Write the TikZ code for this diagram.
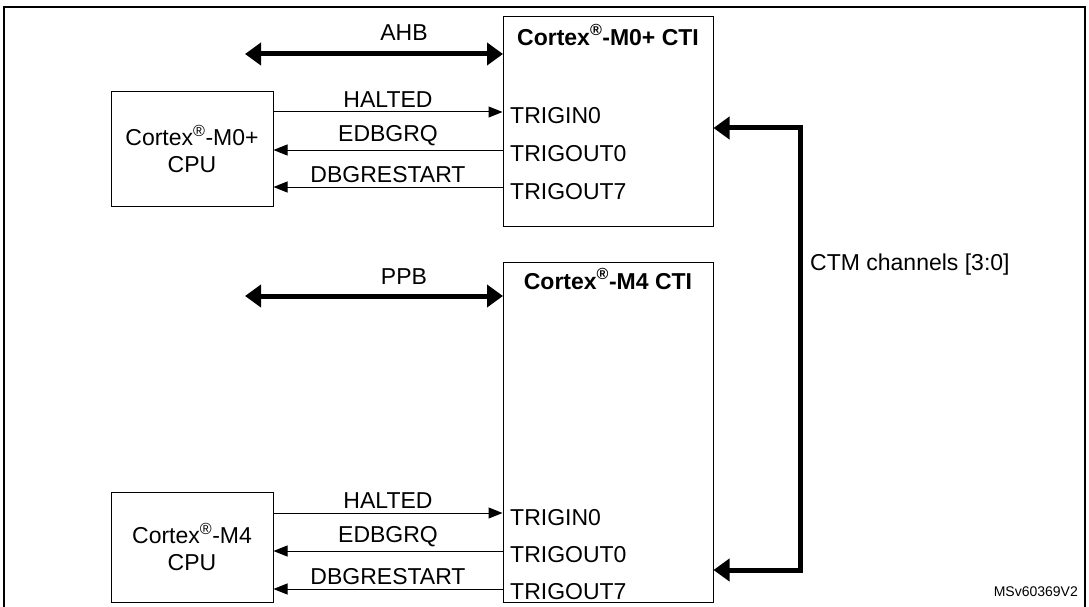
\documentclass[tikz,border=0pt]{standalone}
\usepackage{fontspec}
\setmainfont{Liberation Sans}
\usetikzlibrary{arrows.meta}
\begin{document}
\begin{tikzpicture}[x=1pt,y=-1pt,
  box/.style={draw,line width=1pt,inner sep=0},
  sig/.style={line width=1pt,-{Triangle[length=14pt,width=11pt]}},
  bus/.style={line width=5pt,{Triangle[length=16pt,width=22pt]}-{Triangle[length=16pt,width=22pt]}},
  txt/.style={font=\fontsize{23}{27}\selectfont,inner sep=0},
  every node/.style={txt}]
\useasboundingbox (0,0) rectangle (1089,607);
\draw[line width=1.2pt] (4,7) rectangle (1085,610);
% M0+
\node[box,minimum width=210pt,minimum height=209pt] (cti0) at (608,121.5) {};
\node[font=\fontsize{23}{27}\selectfont\bfseries] (t0) at (608,35) {Cortex\textsuperscript{®}-M0+ CTI};
\node[box,minimum width=162pt,minimum height=114pt,align=center] (cpu0) at (192,149) {Cortex\textsuperscript{®}-M0+\\CPU};
\coordinate (a0l) at (245,54); \coordinate (a0r) at (503,54);
\draw[bus] (a0l) -- (a0r);
\node (ahb) at (404,33) {AHB};
\node[anchor=west] (ti0) at (510,116) {TRIGIN0};
\node[anchor=west] (to0) at (510,154) {TRIGOUT0};
\node[anchor=west] (to7) at (510,192) {TRIGOUT7};
\draw[sig] (cpu0.east|-0,112) -- (cti0.west|-0,112) node[midway,above=4pt] {HALTED};
\draw[sig] (cti0.west|-0,150) -- (cpu0.east|-0,150) node[midway,above=4pt] {EDBGRQ};
\draw[sig] (cti0.west|-0,187) -- (cpu0.east|-0,187) node[midway,above=4pt] {DBGRESTART};
% M4
\node[box,minimum width=210pt,minimum height=340pt] (cti4) at (608,432) {};
\node[font=\fontsize{23}{27}\selectfont\bfseries] (t4) at (608,279) {Cortex\textsuperscript{®}-M4 CTI};
\node[box,minimum width=162pt,minimum height=110pt,align=center] (cpu4) at (192,547) {Cortex\textsuperscript{®}-M4\\CPU};
\coordinate (a4l) at (245,296); \coordinate (a4r) at (503,296);
\draw[bus] (a4l) -- (a4r);
\node (ppb) at (404,277) {PPB};
\node[anchor=west] (ti4) at (510,518) {TRIGIN0};
\node[anchor=west] (to4) at (510,555) {TRIGOUT0};
\node[anchor=west] (to47) at (510,592) {TRIGOUT7};
\draw[sig] (cpu4.east|-0,513) -- (cti4.west|-0,513) node[midway,above=4pt] {HALTED};
\draw[sig] (cti4.west|-0,551) -- (cpu4.east|-0,551) node[midway,above=4pt] {EDBGRQ};
\draw[sig] (cti4.west|-0,589) -- (cpu4.east|-0,589) node[midway,above=4pt] {DBGRESTART};
% CTM
\draw[bus] (cti0.east|-0,128) -- (800,128) -- (800,570) -- (cti4.east|-0,570);
\node[anchor=west] (ctm) at (810,265) {CTM channels [3:0]};
\node[anchor=east,font=\fontsize{14}{16}\selectfont] (id) at (1078,592) {MSv60369V2};
\end{tikzpicture}
\end{document}
